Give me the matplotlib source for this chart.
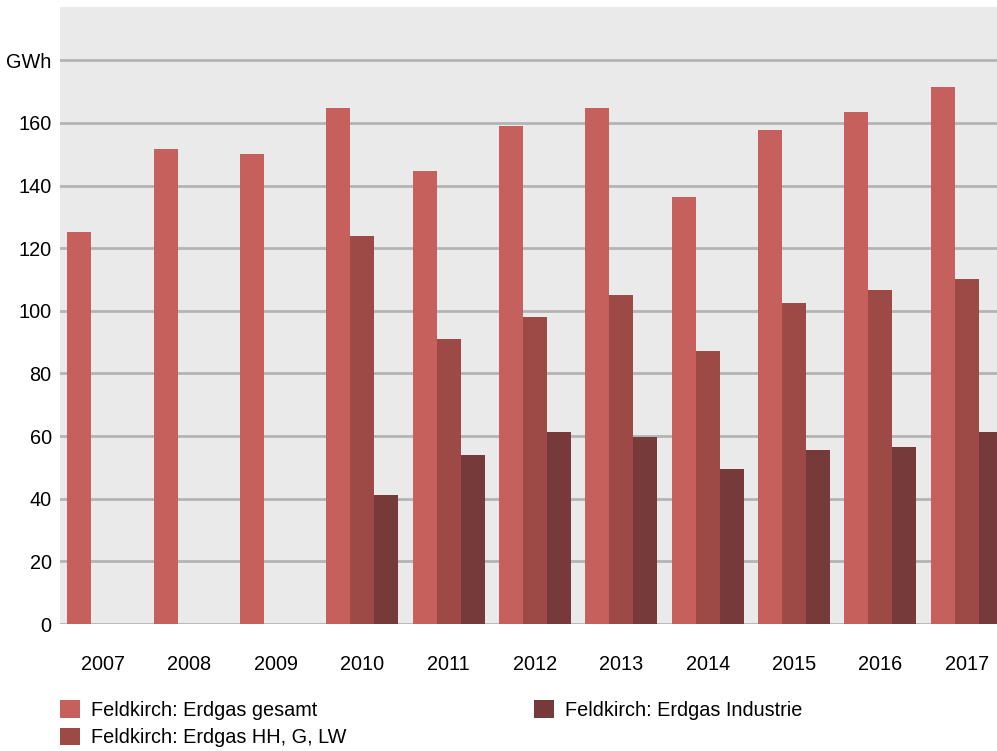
import matplotlib.pyplot as plt
import numpy as np

plt.rcParams['font.family'] = ['Liberation Sans', 'DejaVu Sans']

# Data (GWh)
years = ["2007", "2008", "2009", "2010", "2011", "2012", "2013", "2014", "2015", "2016", "2017"]
gesamt = [125.2, 151.8, 150.2, 164.9, 144.7, 159.1, 164.9, 136.4, 157.8, 163.6, 171.6]
hh_g_lw = [0, 0, 0, 124.0, 91.0, 98.0, 105.0, 87.2, 102.6, 106.7, 110.2]
industrie = [0, 0, 0, 41.2, 54.0, 61.3, 59.7, 49.5, 55.6, 56.5, 61.3]
labels = ["Feldkirch: Erdgas gesamt", "Feldkirch: Erdgas HH, G, LW", "Feldkirch: Erdgas Industrie"]
colors = ["#C6605C", "#9D4946", "#753A39"]

fs = 14.3

fig = plt.figure(figsize=(9.97, 7.51), dpi=100)
# axes runs a little past the right edge, like the original
ax = fig.add_axes([60 / 997, 127 / 751, 950 / 997, 617 / 751])
ax.set_facecolor("#EAEAEA")

x = np.arange(len(years))
w = 0.278
b1 = ax.bar(x - w, gesamt, w, color=colors[0], label=labels[0], zorder=3)
b2 = ax.bar(x, hh_g_lw, w, color=colors[1], label=labels[1], zorder=3)
b3 = ax.bar(x + w, industrie, w, color=colors[2], label=labels[2], zorder=3)

ax.set_xlim(-0.5, len(years) - 0.5)
ax.set_ylim(0, 197)

ticks = list(range(0, 200, 20))
ax.set_yticks(ticks)
ax.set_yticklabels([str(t) for t in ticks[:-1]] + ["GWh"])
ax.yaxis.grid(True, color="#B4B4B4", linewidth=2, zorder=0)
ax.set_axisbelow(True)

ax.set_xticks(x)
ax.set_xticklabels(years)
ax.tick_params(axis="both", length=0, labelsize=fs, colors="black")
ax.tick_params(axis="x", pad=22)
ax.tick_params(axis="y", pad=6)

for s in ax.spines.values():
    s.set_visible(False)

fig.legend(handles=[b1, b2, b3], labels=labels, ncol=2, loc="upper left",
           bbox_to_anchor=(60 / 997, 1 - 700 / 751), frameon=False,
           fontsize=fs, handlelength=1.0, handleheight=1.0,
           handletextpad=0.55, columnspacing=9.45, labelspacing=0.4,
           borderpad=0, borderaxespad=0)

fig.savefig("out.png", dpi=100)
